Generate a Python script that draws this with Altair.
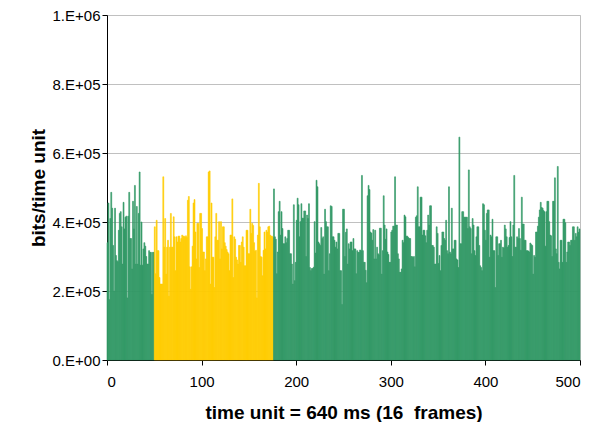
import altair as alt
import pandas as pd

# bits per time unit (in thousands), units 0..499
seg1 = [340, 455, 175, 410, 486, 440, 332, 200, 440, 303, 288, 285, 376, 425, 430, 386, 278, 457, 380, 414, 417, 180, 417, 486, 352, 352, 264, 460, 380, 506, 278, 445, 278, 425, 545, 275, 400, 275, 322, 340, 330, 300]
seg2 = [278, 278, 317, 312, 312, 190, 312, 312,
        386, 250, 405, 317, 317, 239, 220, 220, 220, 531, 327, 410, 249, 327, 347, 185, 327, 425, 327, 327, 415, 357, 259, 357, 342, 359, 359, 342, 352, 362, 359, 359, 356, 360, 355]
seg3 = [463, 474, 270, 205, 270, 330, 455, 465, 371, 293, 396, 396, 268, 425, 425, 381, 313, 313, 259, 293, 357, 357, 545, 548, 220, 455, 298, 298, 210, 357, 425, 347, 347, 401, 293, 401, 322, 386, 386, 340, 330, 320]
seg4 = [313, 308, 259, 362, 362, 467, 239, 357, 350, 298, 290, 278, 332, 332, 283, 342, 357, 327, 273, 273, 376, 376, 308, 308, 437, 367, 396, 390, 340, 315, 318, 180, 362, 512, 386, 300, 298, 244, 318, 371]
seg5 = [322, 376, 371, 386, 388, 362, 359, 359, 355,
        496, 357, 350, 250, 313, 430, 460, 362, 430, 381, 337, 337, 357, 340, 352, 376, 376, 308, 308, 278, 220, 450, 230, 283, 405, 469, 450, 357, 401, 453, 411, 411, 432, 432, 300, 420]
seg6 = [410, 453, 268, 259, 265, 265, 269, 401, 310, 521, 502, 342, 337, 332, 384, 352, 357, 249, 437, 401, 386, 386, 259, 308, 447, 445, 357, 357, 347, 327, 342, 322, 367, 367, 259, 259, 161, 437, 437, 300, 370, 380]
seg7 = [278, 337, 322, 342, 342, 317, 352, 322, 322, 250, 317, 312, 312, 319, 317, 535, 317, 283, 283, 260, 224, 476, 506, 494, 371, 368, 347, 378, 293, 376, 293, 327, 308, 305, 382, 382, 249, 317, 476, 391, 350, 380]
seg8 = [313, 306, 283, 283, 371, 376, 388, 388, 531, 391, 391, 308, 293, 254, 254, 264, 347, 340, 420, 415, 359, 359, 355, 352, 352, 300, 300, 297, 300, 270, 414, 418, 502, 386, 386, 472, 472, 362, 376, 376, 360, 340]
seg9 = [376, 420, 391, 447, 447, 332, 332, 327, 278, 278, 386, 367, 280, 303, 259, 332, 371, 371, 352, 347, 405, 317, 308, 502, 313, 308, 440, 322, 322, 347, 347, 293, 290, 268, 646, 337, 337, 430, 430, 414, 414, 414]
seg10 = [414, 381, 551, 386, 381, 308, 410, 391, 317, 303, 357, 386, 386, 332, 273, 268, 259, 453, 450, 376, 347, 425, 435, 435, 298, 362, 357, 408, 317, 317, 210, 357, 357, 303, 337, 337, 347, 298, 327, 325, 391, 380]
seg11 = [357, 327, 332, 355, 401, 357, 300, 391, 535, 327, 327, 357, 352, 381, 352, 318, 472, 394, 394, 347, 347, 317, 317, 316, 313, 339, 335, 332, 249, 303, 298, 371, 371, 388, 414, 435, 457, 442, 440, 433, 430, 330]
seg12 = [430, 460, 460, 401, 362, 360, 300, 460, 460, 528, 322, 308, 561, 283, 264, 347, 347, 283, 408, 408, 398, 283, 313, 342, 342, 332, 347, 347, 386, 386, 347, 367, 357, 386, 370, 380]

values_k = seg1 + seg2 + seg3 + seg4 + seg5 + seg6 + seg7 + seg8 + seg9 + seg10 + seg11 + seg12
highlight_start, highlight_end = 50, 175  # yellow time units

rows = []
for i, v in enumerate(values_k):
    rows.append({
        "t": i,
        "t2": i + 1,
        "bits": v * 1000,
        "grp": "hi" if highlight_start <= i <= highlight_end else "lo",
    })
df = pd.DataFrame(rows)

y_label_expr = ("datum.value == 0 ? '0.E+00' : datum.value >= 1000000 ? "
                "format(datum.value/1000000,'.0f') + '.E+06' : "
                "format(datum.value/100000,'.0f') + '.E+05'")

col_scale = alt.Scale(domain=["lo", "hi"], range=["#339966", "#FFCC00"])

chart = alt.Chart(df).mark_bar(strokeWidth=0.6, strokeOpacity=1).encode(
    x=alt.X("t:Q", scale=alt.Scale(domain=[0, 500], nice=False),
            axis=alt.Axis(values=[0, 100, 200, 300, 400, 500], grid=False,
                          title="time unit = 640 ms (16\u00a0 frames)",
                          titleY=52, titleBaseline="middle",
                          labelPadding=9, tickSize=5)),
    x2="t2:Q",
    y=alt.Y("bits:Q", scale=alt.Scale(domain=[0, 1000000], nice=False),
            axis=alt.Axis(values=[0, 200000, 400000, 600000, 800000, 1000000],
                          labelExpr=y_label_expr, title="bits/time unit",
                          titleX=-69, titleY=172.5, titleBaseline="middle",
                          titleAngle=-90, labelPadding=2, tickSize=5)),
    y2=alt.datum(0),
    color=alt.Color("grp:N", scale=col_scale, legend=None),
    stroke=alt.Stroke("grp:N", scale=col_scale, legend=None),
).properties(
    width=473, height=345,
    autosize=alt.AutoSizeParams(type="none"),
    padding={"left": 99, "top": 7, "right": 6, "bottom": 62},
).configure_view(
    stroke="#c0c0c0", strokeWidth=1
).configure_axis(
    domainColor="#000000", tickColor="#000000", gridColor="#c0c0c0",
    labelColor="#000000", titleColor="#000000",
    labelFont="Liberation Sans", titleFont="Liberation Sans",
    labelFontSize=15, titleFontSize=19, titleFontWeight="bold",
)

chart.save("out.html", embed_options={"renderer": "svg", "actions": False})
